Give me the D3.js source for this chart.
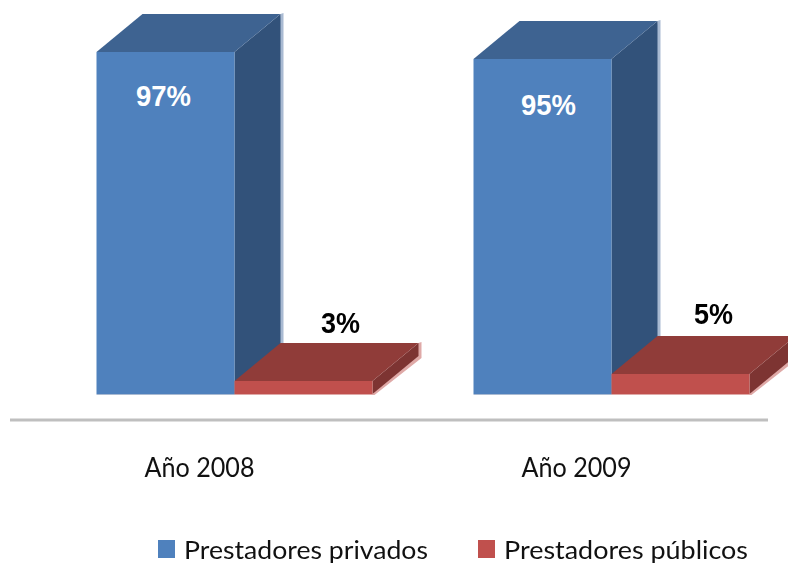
<!DOCTYPE html>
<html>
<head>
<meta charset="utf-8">
<script src="https://cdn.jsdelivr.net/npm/d3@7"></script>
<style>
  html, body { margin: 0; padding: 0; background: #fff; }
  svg { display: block; filter: blur(0.45px); }
  .year-label { font-family: Lato, sans-serif; font-size: 26px; fill: #111; }
  .legend-label { font-family: Lato, sans-serif; font-size: 25px; fill: #111; }
  .value-label { font-family: "Liberation Sans", Arial, sans-serif; font-size: 29px; font-weight: bold; }
</style>
</head>
<body>
<div id="chart"></div>
<script>
// values
const years = ["Año 2008", "Año 2009"];
const seriesNames = ["Prestadores privados", "Prestadores públicos"];
const privados = [97, 95];
const publicos = [3, 5];

const width = 788, height = 564;

// colours for each bar: front, top, side, soft edge
const colors = {
  "Prestadores privados": { front: "#4f81bd", top: "#3e6391", side: "#32527a", edge: "#a9bad2" },
  "Prestadores públicos": { front: "#c0504d", top: "#903c39", side: "#7d3432", edge: "#dfa9a7" }
};

// fake 3d depth of the bars
const depthX = 46, depthY = 38;
const floorDrop = 2.5; // bars run a little under the zero line

// hand placed label nudges, per series and year
const labelDx = { "Prestadores privados": [-2, 6], "Prestadores públicos": [37, 33] };
const labelDy = { "Prestadores privados": [54, 56], "Prestadores públicos": [-10, -12] };

const svg = d3.select("#chart")
  .append("svg")
    .attr("width", width)
    .attr("height", height);

const x = d3.scaleBand()
  .domain(years)
  .range([46, 800]);

const xSeries = d3.scaleBand()
  .domain(seriesNames)
  .range([x.bandwidth() / 2 - 138, x.bandwidth() / 2 + 138]);

const y = d3.scaleLinear()
  .domain([0, 100])
  .range([391.5, 41.5]);

const rows = [];
years.forEach((year, i) => {
  rows.push({ year, i, name: seriesNames[0], value: privados[i] });
  rows.push({ year, i, name: seriesNames[1], value: publicos[i] });
});

const points = pts => pts.map(p => p.join(",")).join(" ");

const bars = svg.selectAll(".bar")
  .data(rows)
  .enter()
  .append("g")
    .attr("class", "bar")
    .attr("transform", d => "translate(" + x(d.year) + ",0)");

// soft light fringe right of and under each bar
bars.append("polygon")
  .attr("fill", d => colors[d.name].edge)
  .attr("points", d => {
    const l = xSeries(d.name), r = l + xSeries.bandwidth();
    const t = y(d.value), b = y(0) + floorDrop;
    return points([[r + depthX + 3, t - depthY - 1], [r + depthX + 3, b - depthY + 2], [r + 2, b + 1], [l, b + 1], [l, b], [r, b], [r + depthX, t - depthY]]);
  });

bars.append("polygon")
  .attr("class", "side")
  .attr("fill", d => colors[d.name].side)
  .attr("points", d => {
    const r = xSeries(d.name) + xSeries.bandwidth();
    const t = y(d.value), b = y(0) + floorDrop;
    return points([[r, t], [r + depthX, t - depthY], [r + depthX, b - depthY], [r, b]]);
  });

bars.append("polygon")
  .attr("class", "top")
  .attr("fill", d => colors[d.name].top)
  .attr("points", d => {
    const l = xSeries(d.name), r = l + xSeries.bandwidth();
    const t = y(d.value);
    return points([[l, t], [l + depthX, t - depthY], [r + depthX, t - depthY], [r, t]]);
  });

bars.append("rect")
  .attr("class", "front")
  .attr("x", d => xSeries(d.name))
  .attr("y", d => y(d.value))
  .attr("width", xSeries.bandwidth())
  .attr("height", d => y(0) + floorDrop - y(d.value))
  .attr("fill", d => colors[d.name].front);

// value labels, white inside the tall bars, black above the short ones
bars.append("text")
  .attr("class", "value-label")
  .attr("text-anchor", "middle")
  .attr("x", d => xSeries(d.name) + xSeries.bandwidth() / 2 + labelDx[d.name][d.i])
  .attr("y", d => y(d.value) + (d.name === seriesNames[0] ? 0 : -depthY) + labelDy[d.name][d.i])
  .attr("fill", d => d.name === seriesNames[0] ? "#fff" : "#000")
  .attr("textLength", d => d.name === seriesNames[0] ? 55 : 39)
  .attr("lengthAdjust", "spacingAndGlyphs")
  .text(d => d.value + "%");

// axis: grey rule with the year labels well under it
svg.append("line")
  .attr("x1", 10)
  .attr("x2", 768)
  .attr("y1", 420)
  .attr("y2", 420)
  .attr("stroke", "#bfbfbf")
  .attr("stroke-width", 3);

const xAxis = svg.append("g")
  .attr("transform", "translate(-35,420)")
  .call(d3.axisBottom(x).tickSize(0).tickPadding(38.5));
xAxis.select(".domain").remove();
xAxis.attr("font-family", null).attr("font-size", null);
xAxis.selectAll("text")
  .attr("class", "year-label")
  .attr("textLength", 110)
  .attr("lengthAdjust", "spacingAndGlyphs");

// legend
const legendX = d3.scaleOrdinal().domain(seriesNames).range([158, 478]);

const legend = svg.selectAll(".legend")
  .data(seriesNames)
  .enter()
  .append("g")
    .attr("class", "legend")
    .attr("transform", d => "translate(" + legendX(d) + ",540)");

legend.append("rect")
  .attr("width", 17)
  .attr("height", 18)
  .attr("fill", d => colors[d].front);

legend.append("text")
  .attr("class", "legend-label")
  .attr("x", 26)
  .attr("y", 19)
  .attr("textLength", 244)
  .attr("lengthAdjust", "spacingAndGlyphs")
  .text(d => d);
</script>
</body>
</html>
